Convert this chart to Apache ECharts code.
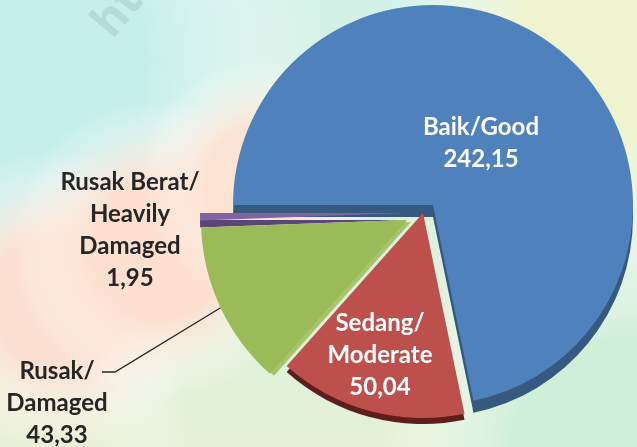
<!DOCTYPE html>
<html>
  <head>
    <meta charset="utf-8" />
    <title>Kondisi Jalan</title>
    <script src="https://cdn.jsdelivr.net/npm/echarts@6/dist/echarts.min.js"></script>
    <style>
      html, body { margin: 0; padding: 0; }
      #pie { width: 637px; height: 447px; }
    </style>
  </head>
  <body>
    <div id="pie"></div>
    <script>
      // data
      var categories = ['Baik/Good', 'Sedang/\nModerate', 'Rusak/\nDamaged', 'Rusak Berat/\nHeavily\nDamaged'];
      var values = [242.15, 50.04, 43.33, 1.95];

      // look
      var topColors = ['#4f81bd', '#bd504d', '#9bbb59', '#8064a2'];
      var sideColors = ['#37597f', '#5e1e1c', '#a8c46a', '#5a4677'];
      // every slice pulled out on its own, like the 3d exploded pie
      var centers = [[433, 205], [423, 213], [407, 220], [405, 213]];
      var radii = [200, 205, 206, 205];
      var depth = [[0, 12], [0, 6], [4, 2], [0, 7]];
      var labelAt = [[481, 143], [380, 355], [57, 403], [130, 230]];

      function fmt(v) {
        return v.toFixed(2).replace('.', ',');
      }

      function slice(i, side) {
        var c = centers[i];
        return {
          type: 'pie',
          z: side ? 1 : 2,
          silent: true,
          animation: false,
          center: side ? [c[0] + depth[i][0], c[1] + depth[i][1]] : c,
          radius: radii[i],
          startAngle: 180,
          clockwise: true,
          avoidLabelOverlap: false,
          data: values.map(function (v, j) {
            var on = j === i;
            return {
              name: categories[j],
              value: v,
              itemStyle: {
                color: on ? (side ? sideColors[i] : topColors[i]) : 'transparent',
                borderWidth: 0
              },
              label: { show: on && !side },
              labelLine: { show: on && !side && i === 2 }
            };
          }),
          label: {
            position: i < 2 ? 'inside' : 'outside',
            color: i < 2 ? '#ffffff' : '#262626',
            fontFamily: 'Lato',
            fontWeight: 'bold',
            fontSize: 24,
            lineHeight: 32,
            align: 'center',
            formatter: function (p) {
              return p.name + '\n' + fmt(p.value);
            }
          },
          labelLine: {
            lineStyle: { color: '#262626', width: 1.3 }
          },
          labelLayout: function (p) {
            if (p.dataIndex !== i) return {};
            var out = {
              x: labelAt[i][0],
              y: labelAt[i][1],
              align: 'center',
              verticalAlign: 'middle'
            };
            if (i === 2 && p.labelLinePoints) {
              out.labelLinePoints = [p.labelLinePoints[0], [115, 372], [102, 372]];
            }
            return out;
          }
        };
      }

      function blob(x, y, r, color) {
        return {
          type: 'rect',
          z: -10,
          silent: true,
          shape: { x: 0, y: 0, width: 637, height: 447 },
          style: {
            fill: {
              type: 'radial', x: x, y: y, r: r, global: true,
              colorStops: [
                { offset: 0, color: color },
                { offset: 0.45, color: color },
                { offset: 1, color: 'rgba(255,255,255,0)' }
              ]
            }
          }
        };
      }

      var series = [];
      for (var k = 0; k < values.length; k++) {
        series.push(slice(k, true));
        series.push(slice(k, false));
      }

      var chart = echarts.init(document.getElementById('pie'));
      chart.setOption({
        backgroundColor: new echarts.graphic.LinearGradient(0, 0, 0, 1, [
          { offset: 0, color: '#d3f1e8' },
          { offset: 1, color: '#e4f1d7' }
        ]),
        graphic: [
          blob(0, 60, 330, 'rgba(198,239,236,1)'),
          blob(637, 20, 250, 'rgba(240,244,206,1)'),
          blob(620, 447, 240, 'rgba(208,239,217,1)'),
          blob(20, 440, 170, 'rgba(234,240,214,1)'),
          blob(60, 300, 150, 'rgba(252,224,210,1)'),
          blob(160, 250, 150, 'rgba(253,224,207,1)'),
          blob(260, 180, 120, 'rgba(253,226,210,0.9)'),
          {
            type: 'text',
            z: -5,
            silent: true,
            x: 120,
            y: 46,
            rotation: Math.PI * 0.28,
            style: {
              text: 'http://www.bps.go.id',
              fontSize: 46,
              fontWeight: 'bold',
              fontFamily: 'Noto Sans',
              fill: 'rgba(120,150,140,0.22)',
              textVerticalAlign: 'bottom'
            }
          }
        ],
        series: series
      });
    </script>
  </body>
</html>
